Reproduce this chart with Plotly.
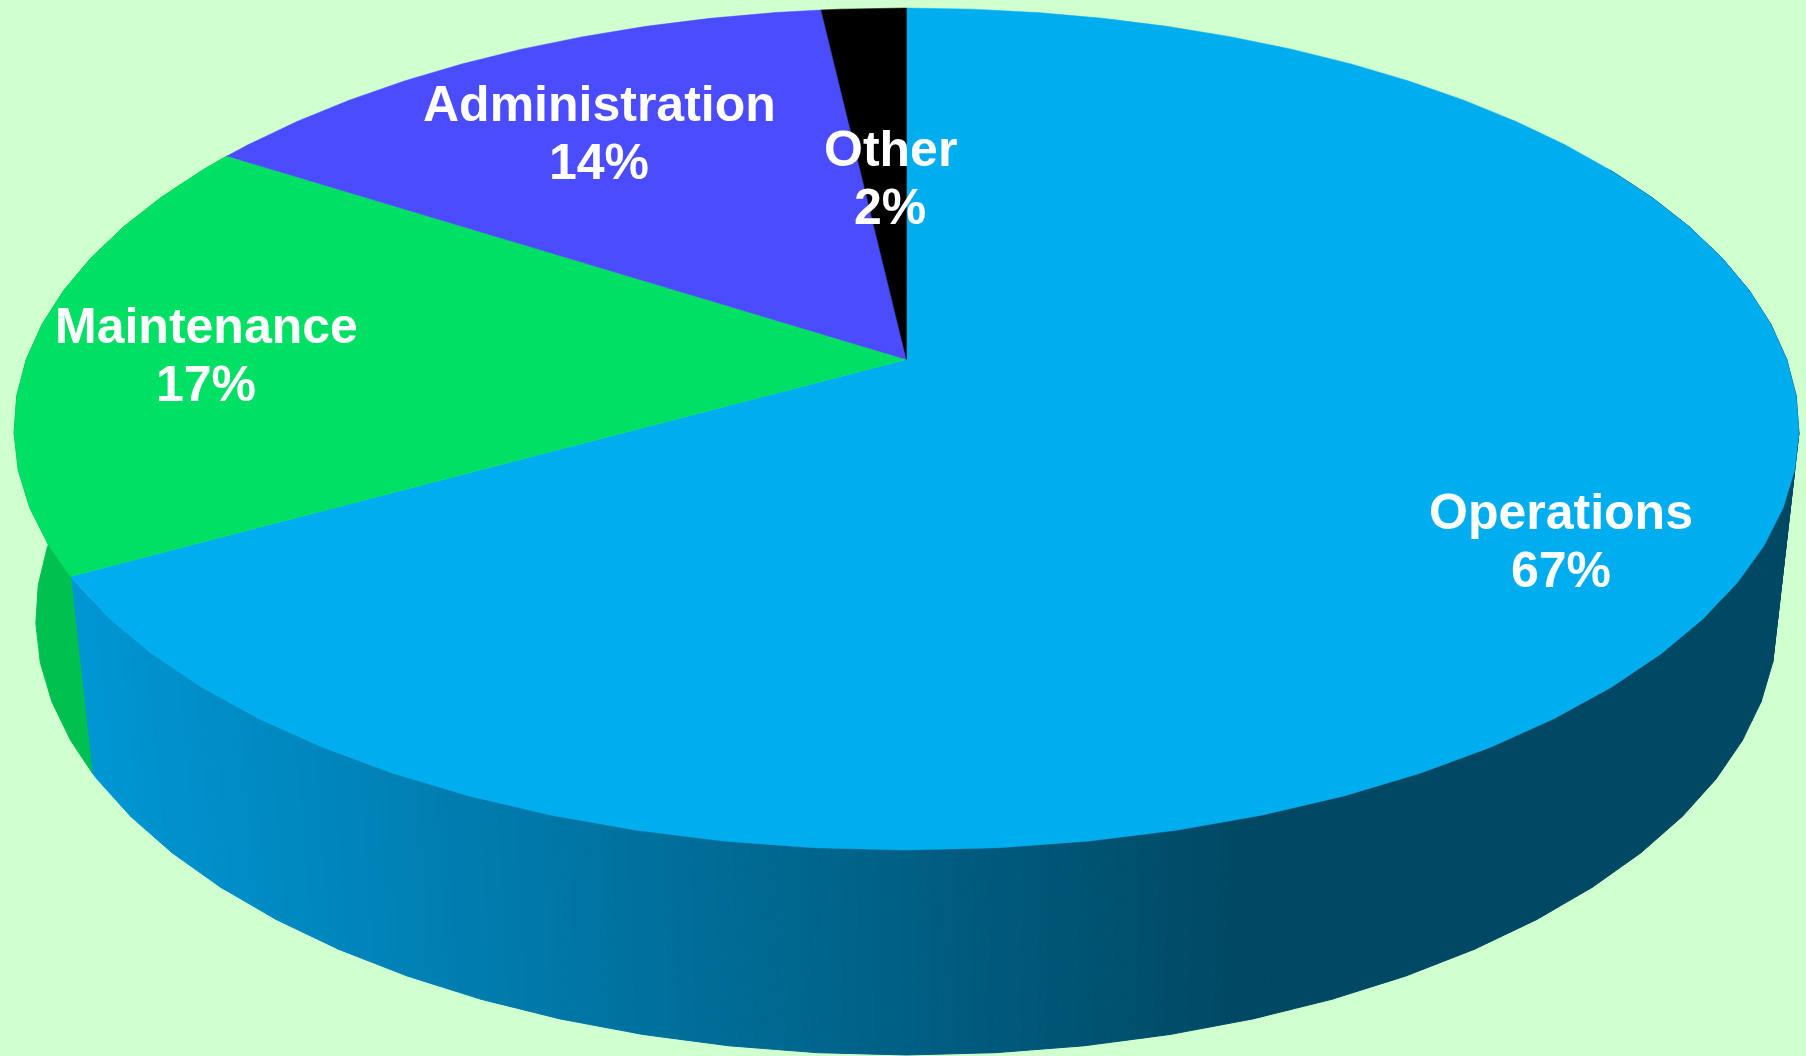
import numpy as np
import plotly.graph_objects as go

segment_names = ["Operations", "Maintenance", "Administration", "Other"]
segment_shares = [66.9, 17.2, 14.1, 1.8]
slice_colors = ["#00AEEF", "#00E064", "#4B4BFF", "#000000"]
label_x = [1561, 206, 599, 890]
label_y = [512, 326, 104, 149]

W, H = 1806, 1056
BG = "#D0FFD0"
WALL_GREEN = "#00C050"
WALL_LEFT = np.array([0, 150, 212])
WALL_RIGHT = np.array([0, 72, 99])
CX = 906.5
FACET = 5.0  # the original pie is a polygon, one corner every 5 degrees


# perspective projection of the pie circle, angle clockwise from 12 o'clock
def top_rim(deg):
    t = np.radians(deg)
    w = 1 + 0.1653 * np.cos(t)
    return CX + 880.2 * np.sin(t) / w, (359.4 - 350.08 * np.cos(t)) / w


def bottom_rim(deg):
    t = np.radians(deg)
    w = 1 + 0.1614 * np.cos(t)
    return CX + 859.3 * np.sin(t) / w, (547.6 - 337.1 * np.cos(t)) / w


def facet_angles(start, end):
    inner = np.arange(np.ceil(start / FACET) * FACET, end, FACET)
    return np.unique(np.concatenate([[start], inner, [end]]))


def polygon(x, y, color):
    return go.Scatter(x=x, y=y, mode="lines", fill="toself", fillcolor=color,
                      line=dict(color=color, width=1), hoverinfo="skip", showlegend=False)


def wall_color(x):
    f = np.clip((x - 89) / (1250 - 89), 0, 1)
    r, g, b = (WALL_LEFT + (WALL_RIGHT - WALL_LEFT) * f).round().astype(int)
    return f"rgb({r},{g},{b})"


edges = 360 * np.cumsum([0] + segment_shares) / sum(segment_shares)

fig = go.Figure()

# side wall, cut in thin bands to get the horizontal gradient
angles = facet_angles(60, edges[1])
for a0, a1 in zip(angles[:-1], angles[1:]):
    tx0, ty0 = top_rim(a0)
    tx1, ty1 = top_rim(a1)
    bx0, by0 = bottom_rim(a0)
    bx1, by1 = bottom_rim(a1)
    steps = max(1, int(abs(bx1 - bx0) / 8))
    for i in range(steps):
        s0, s1 = i / steps, (i + 1) / steps
        xs = [tx0 + (tx1 - tx0) * s0, tx0 + (tx1 - tx0) * s1, bx0 + (bx1 - bx0) * s1, bx0 + (bx1 - bx0) * s0]
        ys = [ty0 + (ty1 - ty0) * s0, ty0 + (ty1 - ty0) * s1, by0 + (by1 - by0) * s1, by0 + (by1 - by0) * s0]
        fig.add_trace(polygon(xs + xs[:1], ys + ys[:1], wall_color(np.mean(xs))))

angles = facet_angles(edges[1], edges[2])
tx, ty = top_rim(angles)
bx, by = bottom_rim(angles)
fig.add_trace(polygon(np.r_[tx, bx[::-1], tx[0]], np.r_[ty, by[::-1], ty[0]], WALL_GREEN))

# top face
apex_x, apex_y = top_rim(90)[0] * 0 + CX, 359.4
for i, color in enumerate(slice_colors):
    rx, ry = top_rim(facet_angles(edges[i], edges[i + 1]))
    fig.add_trace(go.Scatter(x=np.r_[apex_x, rx, apex_x], y=np.r_[apex_y, ry, apex_y],
                             mode="lines", fill="toself", fillcolor=color,
                             line=dict(color=color, width=0.5), name=segment_names[i],
                             hoverinfo="name", showlegend=False))

for name, share, x, y in zip(segment_names, segment_shares, label_x, label_y):
    for text, yy in ((name, y), (f"{round(share)}%", y + 58)):
        fig.add_annotation(x=x, y=yy, text=f"<b>{text}</b>", showarrow=False,
                           font=dict(family="Liberation Sans Narrow, Liberation Sans, Arial", size=50, color="white"))

fig.update_layout(width=W, height=H, margin=dict(l=0, r=0, t=0, b=0),
                  paper_bgcolor=BG, plot_bgcolor=BG,
                  xaxis=dict(range=[0, W], visible=False, fixedrange=True),
                  yaxis=dict(range=[H, 0], visible=False, fixedrange=True))

fig.write_html("out.html", config=dict(displayModeBar=False),
               post_script="document.body.style.margin='0';document.body.style.overflow='hidden';")
